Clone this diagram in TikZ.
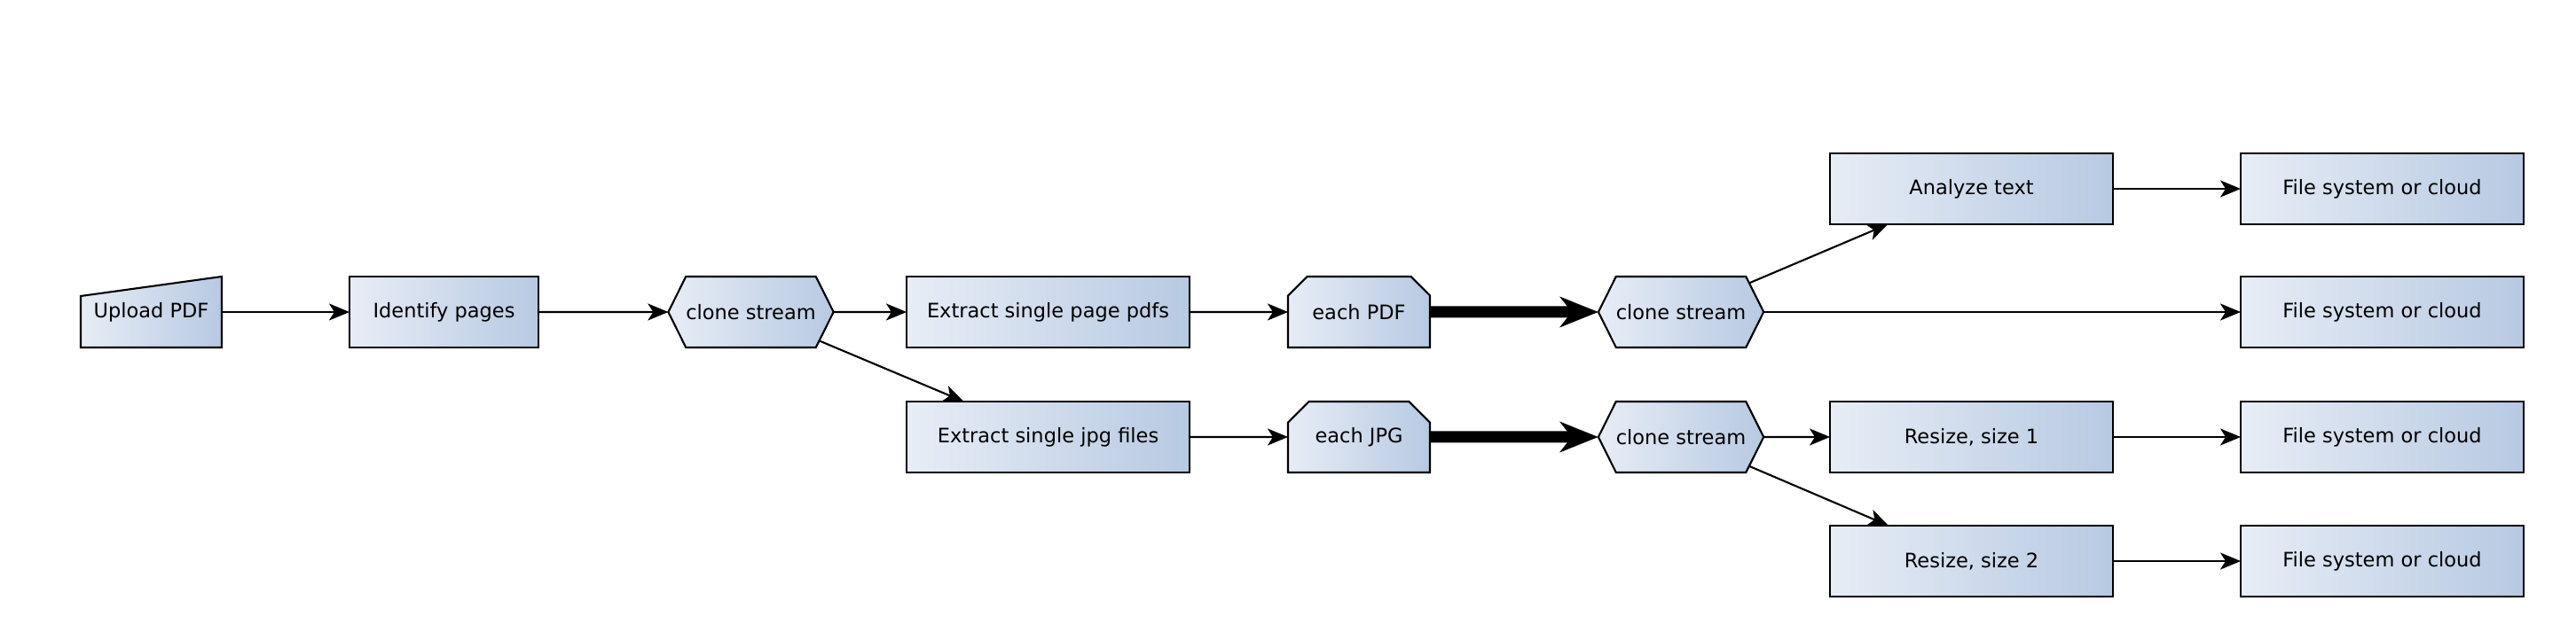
\documentclass[tikz,border=0pt]{standalone}
\usepackage{fontspec}
\setmainfont{DejaVu Sans}
\usetikzlibrary{arrows.meta,shapes.symbols,shapes.misc,backgrounds}
\definecolor{boxlight}{RGB}{231,237,246}
\definecolor{boxdark}{RGB}{183,201,226}
\tikzset{
    base/.style={line width=0.6pt, font=\fontsize{6.4}{7.7}\selectfont, inner sep=0pt, outer sep=0pt, minimum height=0.8cm},
    shaded/.style={draw=black, line width=0.6pt, left color=boxlight, right color=boxdark},
    box/.style={base, shaded, rectangle, minimum width=#1},
    box/.default=3.19cm,
    hexa/.style={base, shaded, signal, signal to=west and east, signal pointer angle=127, minimum width=1.84cm},
    loopbox/.style={base, shaded, chamfered rectangle, chamfered rectangle corners={north west,north east}, chamfered rectangle xsep=0.2cm, minimum width=1.6cm},
    flow/.style={-{Stealth[length=2.3mm,width=1.9mm,inset=0.6mm]}, line width=0.6pt},
    bigflow/.style={-{Stealth[length=4.3mm,width=3.4mm,inset=1.3mm]}, line width=3.7pt}
}
\begin{document}
\begin{tikzpicture}
    \useasboundingbox (0,0) rectangle (29.04,7.22);

    \node[base, minimum width=1.59cm] (upload) at (1.705,3.70) {Upload PDF};
    \begin{scope}[on background layer]
        \path[shaded] (upload.south west) -- (upload.south east) -- (upload.north east)
            -- ([yshift=-0.22cm]upload.north west) -- cycle;
    \end{scope}
    \node[box=2.13cm] (identify) at (5.005,3.70) {Identify pages};
    \node[hexa] (clonea) at (8.465,3.70) {clone stream};
    \node[box] (extractpdf) at (11.815,3.70) {Extract single page pdfs};
    \node[loopbox] (eachpdf) at (15.32,3.70) {each PDF};
    \node[hexa] (cloneb) at (18.95,3.70) {clone stream};
    \node[box] (analyze) at (22.225,5.09) {Analyze text};
    \node[box] (storea) at (26.855,5.09) {File system or cloud};
    \node[box] (storeb) at (26.855,3.70) {File system or cloud};

    \node[box] (extractjpg) at (11.815,2.29) {Extract single jpg files};
    \node[loopbox] (eachjpg) at (15.32,2.29) {each JPG};
    \node[hexa] (clonec) at (18.95,2.29) {clone stream};
    \node[box] (resizea) at (22.225,2.29) {Resize, size 1};
    \node[box] (storec) at (26.855,2.29) {File system or cloud};
    \node[box] (resizeb) at (22.225,0.89) {Resize, size 2};
    \node[box] (stored) at (26.855,0.89) {File system or cloud};

    \draw[flow] (upload) -- (identify);
    \draw[flow] (identify) -- (clonea);
    \draw[flow] (clonea) -- (extractpdf);
    \draw[flow] (clonea) -- (extractjpg);
    \draw[flow] (extractpdf) -- (eachpdf);
    \draw[flow] (extractjpg) -- (eachjpg);
    \draw[bigflow] (eachpdf) -- (cloneb);
    \draw[bigflow] (eachjpg) -- (clonec);
    \draw[flow] (cloneb) -- (analyze);
    \draw[flow] (cloneb) -- (storeb);
    \draw[flow] (clonec) -- (resizea);
    \draw[flow] (clonec) -- (resizeb);
    \draw[flow] (analyze) -- (storea);
    \draw[flow] (resizea) -- (storec);
    \draw[flow] (resizeb) -- (stored);
\end{tikzpicture}
\end{document}
